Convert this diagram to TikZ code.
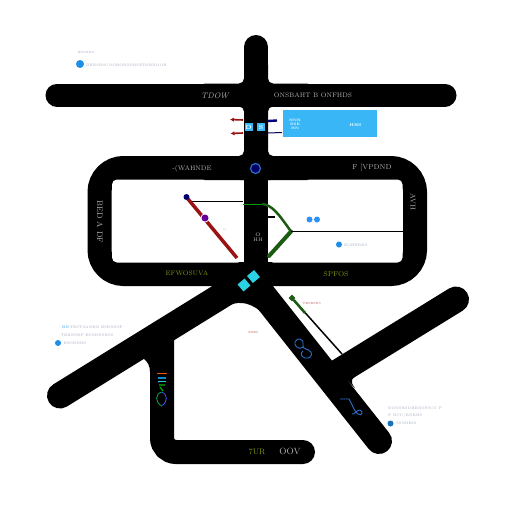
\documentclass[tikz,border=0pt]{standalone}
\usepackage{tikz}
\usetikzlibrary{positioning,shapes.geometric,arrows.meta}
\definecolor{skyblue}{HTML}{38B6F5}
\definecolor{dotblue}{HTML}{1E8FE6}
\definecolor{glyphblue}{HTML}{2C70C8}
\definecolor{darkgreen}{HTML}{1C5C12}
\definecolor{darkred}{HTML}{9A1212}
\definecolor{labelgreen}{HTML}{7C9A10}
\definecolor{labelgrey}{HTML}{B4B4B4}
\definecolor{finegrey}{HTML}{A4ACBE}
\definecolor{teal}{HTML}{2AD2E2}
\tikzset{%
  road/.style={line width=24pt, line cap=round, black},
  wideroad/.style={road, line width=26pt},
  panel/.style={fill=white, rounded corners=5pt},
  dot/.style={circle, fill=dotblue, inner sep=0pt, minimum size=#1},
  dot/.default=7pt,
  roadlabel/.style={text=labelgrey, inner sep=0pt, font=\fontsize{8}{8}\selectfont},
  greenlabel/.style={text=labelgreen, inner sep=0pt, font=\fontsize{8}{8}\selectfont},
  fineprint/.style={text=finegrey, inner sep=0pt, anchor=west, font=\fontsize{3.6}{4}\selectfont},
  redprint/.style={text=darkred!70, inner sep=0pt, anchor=west, font=\fontsize{3}{4}\selectfont},
  tile/.style={fill=skyblue, inner sep=0pt, minimum size=8pt, text=white, font=\fontsize{6}{6}\selectfont},
  cyanmark/.style={regular polygon, regular polygon sides=4, fill=teal, inner sep=0pt, minimum size=13pt, rotate=40}
}
\begin{document}
\begin{tikzpicture}[x=1pt, y=-1pt]
    \fill[white] (0,0) rectangle (512,512);
    \useasboundingbox (0,0) rectangle (512,512);
    % road ends
    \coordinate (north) at (256,47);
    \coordinate (hub) at (256,272);
    \coordinate (west) at (57,95);
    \coordinate (east) at (445,95);
    \coordinate (armw) at (60,395.5);
    \coordinate (arme) at (456,299.5);
    \coordinate (armj) at (335,374);
    \coordinate (diag) at (250,278);
    \coordinate (diage) at (379,441);
    \coordinate (low) at (162,340);
    \coordinate (lowc) at (162,452);
    \coordinate (lowe) at (303,452);
    % main roads
    \draw[road, line cap=butt, rounded corners=24pt] (99.5,168) rectangle (415,274);
    \fill[panel] (112,179.5) rectangle (243,262.5);
    \fill[panel] (268,179.5) rectangle (402.5,262.5);
    \draw[road] (north) -- (hub);
    \draw[road, line width=23pt] (west) -- (east);
    \fill[rounded corners=5pt] (244,60) -- (244,83.5) -- (200,83.5) -- (200,106.5) -- (244,106.5)
      -- (244,156) -- (200,156) -- (200,180) -- (312,180) -- (312,156) -- (268,156)
      -- (268,106.5) -- (312,106.5) -- (312,83.5) -- (268,83.5) -- (268,60) -- cycle;
    \draw[wideroad] (armw) -- (diag);
    \draw[wideroad] (diag) -- (diage);
    \draw[wideroad] (armj) -- (arme);
    \draw[road, rounded corners=14pt] (low) -- (lowc) -- (lowe);
    % fillets
    \fill (174,374) .. controls (174,360) and (172,352) .. (165,343) -- (150,352) -- cycle;
    \fill (150,372) .. controls (150,366) and (148,362) .. (143,358) -- (155,352) -- cycle;
    \fill (360,373) .. controls (351,378.5) and (349.5,381) .. (355,388) -- (345,378) -- cycle;
    \fill (226,307) .. controls (236,301) and (248,301) .. (260,311) -- (247,290) -- cycle;
    % lines in the left panel
    \draw[black, line width=1pt] (190,201.5) -- (243,201.5);
    \draw[darkred, line width=3.5pt] (188,199) -- (237,258);
    \node[circle, fill=white, inner sep=0pt, minimum size=9pt] (halo) at (205,218) {};
    \node[circle, fill=violet!80!blue, inner sep=0pt, minimum size=7pt] (stopa) at (205,218) {};
    \node[circle, fill=blue!40!black, inner sep=0pt, minimum size=6pt] (stopb) at (186.5,197) {};
    % green fork
    \coordinate (fork) at (291,231.5);
    \draw[green!60!black, line width=1pt] (243,204) -- (262,204);
    \draw[darkgreen, line width=2.5pt] (262,204) .. controls (272,205) and (278,213) .. (fork);
    \draw[darkgreen, line width=4pt, line cap=round] (fork) -- (269,256);
    \draw[black, line width=1pt] (fork) -- (402.5,231.5);
    \draw[black, line width=1.4pt] (267,217) -- (275,217);
    % fine line below the hub
    \coordinate (tipa) at (342,354);
    \node[diamond, fill=darkgreen, inner sep=0pt, minimum size=7pt] (tipb) at (292,298) {};
    \draw[black, line width=1.5pt] (tipa) -- (tipb);
    \draw[darkgreen, line width=2.5pt] (tipb) -- (305,313);
    % arrows beside the tiles
    \coordinate (reda) at (243,120);
    \coordinate (redb) at (243,133);
    \coordinate (bluea) at (268,121);
    \coordinate (blueb) at (268,133);
    \draw[darkred, line width=1.6pt, -{Latex[length=4pt,width=4.5pt]}] (reda) -- (230,119.5);
    \draw[darkred, line width=1.6pt, -{Latex[length=4pt,width=4.5pt]}] (redb) -- (230.5,133.5);
    \draw[blue!50!black, line width=2.4pt] (bluea) -- (277,120.5);
    \draw[blue!30!black, line width=1pt] (blueb) -- (282,132.5);
    \node[tile] (tilea) at (248.5,127) {\textbf{D}};
    \node[tile] (tileb) at (261,127) {\textbf{S}};
    \node[fill=skyblue, inner sep=0pt, minimum width=94pt, minimum height=27pt] (sign) at (330,123.5) {};
    \node[text=white, inner sep=0pt, align=center, font=\fontsize{3.4}{4}\selectfont\bfseries] (signa) at (295,124) {HNR\\BSE\\HN};
    \node[text=white, inner sep=0pt, font=\fontsize{4}{4}\selectfont\bfseries] (signb) at (355.5,125) {HBS};
    % markers
    \node[circle, draw=glyphblue, line width=1.2pt, fill=blue!40!black, inner sep=0pt, minimum size=10pt] (ring) at (255.5,168.5) {};
    \node[cyanmark] (sqa) at (253.5,276.5) {};
    \node[cyanmark] (sqb) at (244,285) {};
    \node[dot=6pt, fill=skyblue!80!blue] (pa) at (309.5,219.5) {};
    \node[dot=6pt, fill=skyblue!80!blue] (pb) at (317,219.5) {};
    % road labels
    \node[roadlabel, font=\itshape\fontsize{8}{8}\selectfont] (nw) at (215,95.5) {TDOW};
    \node[roadlabel, font=\fontsize{6.5}{7}\selectfont] (ne) at (313,95) {ONSBAHT B ONFHDS};
    \node[roadlabel, font=\fontsize{6.5}{7}\selectfont] (nl) at (192,168.5) {-(WAHNDE};
    \node[roadlabel, font=\fontsize{7}{7}\selectfont] (nr) at (372,168) {F [VPDND};
    \node[roadlabel, rotate=-90, font=\fontsize{8}{8}\selectfont] (wl) at (100,222) {BED A DF};
    \node[roadlabel, rotate=-90, font=\fontsize{7}{7}\selectfont] (er) at (413,202) {AVH};
    \node[roadlabel, font=\fontsize{5}{5}\selectfont, align=center] (ml) at (258,237) {O\\HH};
    \node[greenlabel, font=\fontsize{6.5}{7}\selectfont] (gl) at (187,273.5) {EFWOSUVA};
    \node[greenlabel, font=\fontsize{7}{7}\selectfont] (gr) at (336,274.5) {SPFOS};
    \node[greenlabel, font=\fontsize{8}{8}\selectfont] (ga) at (257,451.5) {7UR};
    \node[roadlabel, font=\fontsize{9}{9}\selectfont] (gb) at (290,451.5) {OOV};
    % fine print
    \node[fineprint, font=\fontsize{3}{4}\selectfont] (fa) at (77.5,52) {ENSRKO};
    \node[dot=8pt] (tdot) at (80,64) {};
    \node[fineprint] (fb) at (86,65) {BENSRSCOOBORNSRSNDSRNOOR};
    \node[fineprint, text=dotblue] (la) at (62,327.5) {BN};
    \node[fineprint] (lb) at (69.5,327.5) {TESTSANRN ESRNSSF};
    \node[fineprint] (lc) at (60.5,335) {TERNSRF ESNRNSRSS};
    \node[dot=6pt] (ldot) at (58,343) {};
    \node[fineprint] (ld) at (63.5,343) {ENSRNRS};
    \node[fineprint] (qa) at (388,408) {BONSRSDBRNSFSCC F};
    \node[fineprint] (qb) at (388,415.5) {F BCC/BNRRS};
    \node[dot=6pt, fill=dotblue!80!black] (rdot) at (390.5,423.5) {};
    \node[fineprint] (qc) at (396,423) {SSNRRIS};
    \node[dot=6pt] (cdot) at (339,244.5) {};
    \node[fineprint] (cc) at (344,245) {EOHERRS};
    \node[redprint] (rd) at (302.5,303.5) {TESRSRS};
    \node[redprint] (re) at (248,332.5) {SRES};
    \node[redprint, text=violet!30, font=\fontsize{2.5}{3}\selectfont] (rf) at (223,230) {Rs};
    % glyphs on the roads
    \draw[glyphblue, line width=0.9pt] (303,347) .. controls (297,351) and (294,344) .. (295,342)
      .. controls (297,337) and (304,338) .. (303,345) .. controls (302,350) and (308,348) .. (311,352)
      .. controls (313,356) and (309,359) .. (305,358) .. controls (301,357) and (300,353) .. (303,351);
    \draw[glyphblue, line width=0.9pt] (340,399) -- (349,399) .. controls (353,405) and (353,410) .. (358,414)
      .. controls (363,417) and (363,411) .. (360,410) .. controls (356,410) and (355,415) .. (352,414);
    \draw[red!40!orange, line width=0.6pt] (157,373.5) -- (167,373.5);
    \draw[cyan!70!blue, line width=1.6pt] (158,378) -- (166,378);
    \draw[teal, line width=1.6pt] (158,381.5) -- (166,381.5);
    \draw[green!70!black, line width=1.2pt] (159,385) -- (165,385) (160,387) -- (163,391);
    \draw[green!70!blue, line width=0.8pt] (161.5,392) .. controls (155,394) and (155,402) .. (161.5,406);
    \draw[blue!70!white, line width=0.8pt] (161.5,392) .. controls (168,394) and (168,402) .. (161.5,406);
  \end{tikzpicture}
\end{document}
